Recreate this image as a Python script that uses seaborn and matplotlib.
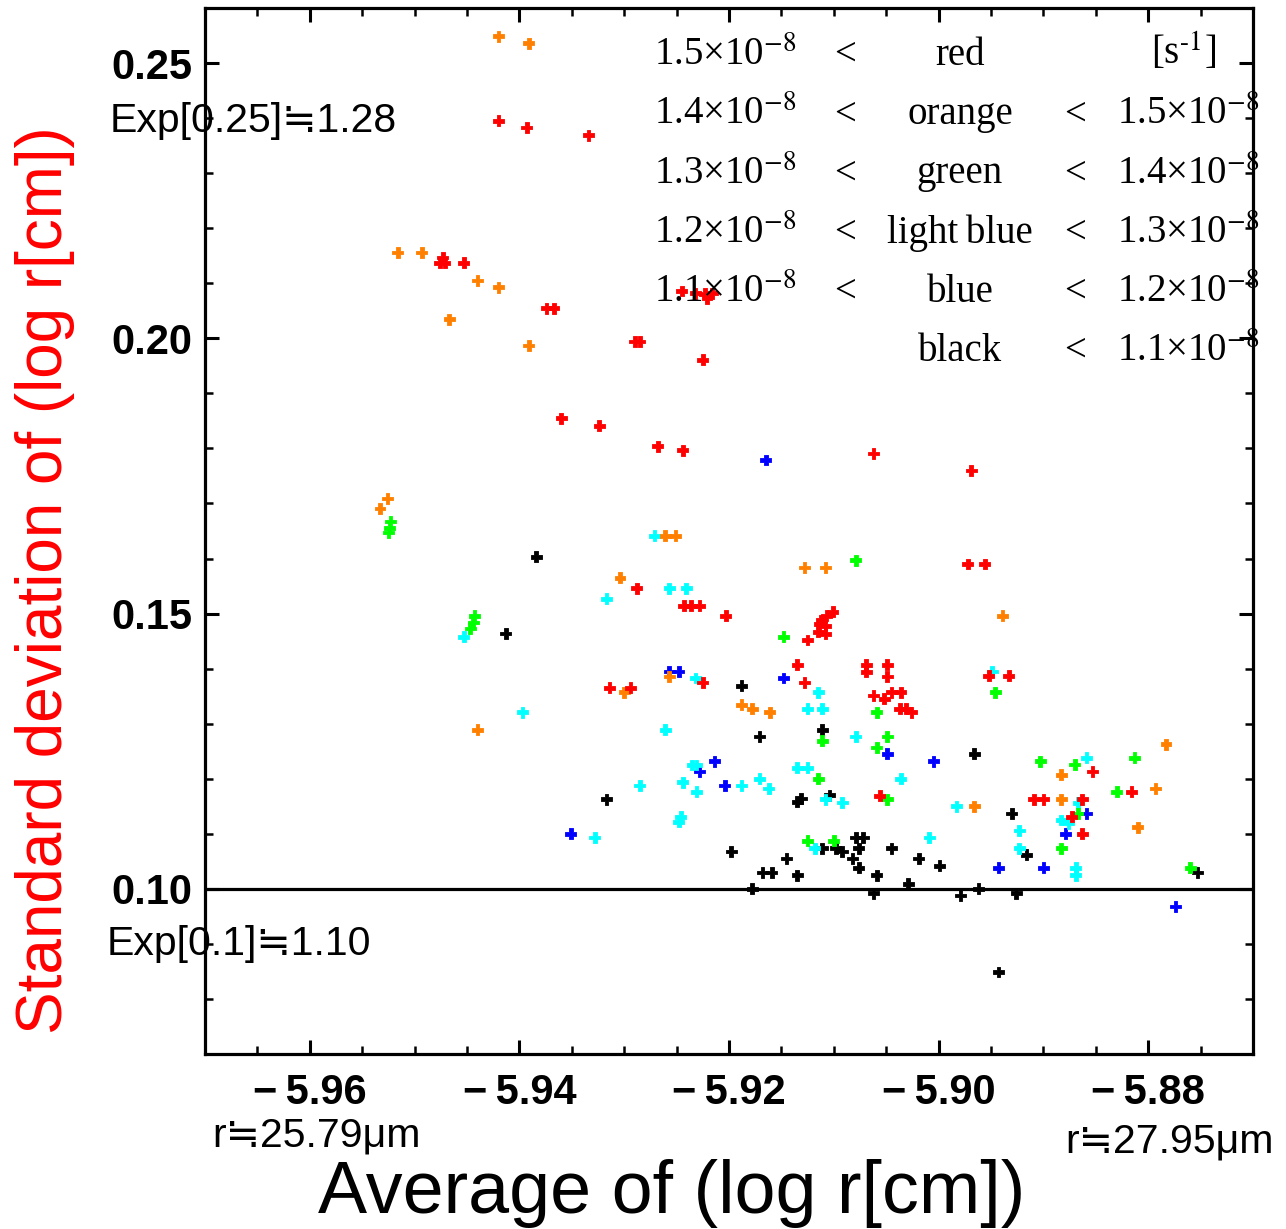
import numpy as np
import pandas as pd
import matplotlib
matplotlib.use("Agg")
import matplotlib.pyplot as plt
import seaborn as sns
from matplotlib.ticker import MultipleLocator

# ---------------- data ----------------
red_x = [-5.9420, -5.9393, -5.9334, -5.9476, -5.9471, -5.9473, -5.9453, -5.9374, -5.9367,
         -5.9290, -5.9285, -5.9225, -5.9360, -5.9324, -5.9268, -5.9244, -5.9245, -5.9232,
         -5.9223, -5.9216, -5.9221, -5.9062, -5.8969, -5.8972, -5.8956, -5.9288, -5.9243,
         -5.9236, -5.9228, -5.9203, -5.9101, -5.9107, -5.9112, -5.9114, -5.9108, -5.9115,
         -5.9108, -5.9125, -5.9135, -5.9069, -5.9069, -5.9049, -5.9049, -5.9128, -5.9225,
         -5.9314, -5.9294, -5.8952, -5.8933, -5.9062, -5.9052, -5.9045, -5.9036, -5.9037,
         -5.9031, -5.9026, -5.8853, -5.8816, -5.9056, -5.8909, -5.8900, -5.8863, -5.8873,
         -5.8863]
red_y = [0.2395, 0.2383, 0.2369, 0.2137, 0.2137, 0.2147, 0.2137, 0.2055, 0.2055,
         0.1994, 0.1994, 0.1961, 0.1855, 0.1841, 0.1804, 0.1797, 0.2086, 0.2082,
         0.2081, 0.2082, 0.2073, 0.1791, 0.1760, 0.1590, 0.1590, 0.1546, 0.1514,
         0.1514, 0.1514, 0.1496, 0.1503, 0.1496, 0.1488, 0.1481, 0.1478, 0.1467,
         0.1463, 0.1452, 0.1407, 0.1407, 0.1394, 0.1407, 0.1386, 0.1375, 0.1375,
         0.1365, 0.1365, 0.1387, 0.1387, 0.1351, 0.1345, 0.1357, 0.1357, 0.1327,
         0.1327, 0.1321, 0.1213, 0.1176, 0.1169, 0.1163, 0.1163, 0.1163, 0.1131,
         0.1100]

orange_x = [-5.9420, -5.9391, -5.9516, -5.9493, -5.9440, -5.9420, -5.9467, -5.9391,
            -5.9526, -5.9533, -5.9261, -5.9251, -5.9304, -5.9128, -5.9108, -5.8939,
            -5.9257, -5.9300, -5.9188, -5.9178, -5.9161, -5.9440, -5.8783, -5.8883,
            -5.8793, -5.8966, -5.8883, -5.8810]
orange_y = [0.2549, 0.2536, 0.2156, 0.2156, 0.2105, 0.2093, 0.2035, 0.1987,
            0.1709, 0.1691, 0.1641, 0.1641, 0.1565, 0.1584, 0.1584, 0.1496,
            0.1386, 0.1357, 0.1334, 0.1327, 0.1321, 0.1289, 0.1263, 0.1207,
            0.1182, 0.1150, 0.1163, 0.1112]

green_x = [-5.9523, -5.9524, -5.9525, -5.9443, -5.9444, -5.9447, -5.9148, -5.9079,
           -5.8946, -5.9059, -5.9111, -5.9049, -5.9059, -5.8903, -5.8870, -5.8813,
           -5.9115, -5.8830, -5.9049, -5.8867, -5.9125, -5.9100, -5.8883, -5.8760]
green_y = [0.1667, 0.1656, 0.1647, 0.1496, 0.1484, 0.1473, 0.1458, 0.1597,
           0.1357, 0.1321, 0.1269, 0.1277, 0.1257, 0.1232, 0.1226, 0.1238,
           0.1200, 0.1176, 0.1163, 0.1137, 0.1087, 0.1087, 0.1074, 0.1038]

lightblue_x = [-5.9271, -5.9257, -5.9241, -5.9317, -5.9453, -5.9232, -5.8949, -5.9115,
               -5.9125, -5.9111, -5.9397, -5.9261, -5.9079, -5.9235, -5.9231, -5.9244,
               -5.9285, -5.9188, -5.9171, -5.9162, -5.9231, -5.9135, -5.9125, -5.9036,
               -5.8859, -5.9108, -5.9092, -5.8983, -5.8867, -5.8883, -5.8876, -5.9246,
               -5.9248, -5.9328, -5.8923, -5.9009, -5.9118, -5.8923, -5.8869, -5.8869]
lightblue_y = [0.1641, 0.1546, 0.1546, 0.1527, 0.1458, 0.1383, 0.1395, 0.1357,
               0.1327, 0.1327, 0.1321, 0.1289, 0.1277, 0.1225, 0.1225, 0.1194,
               0.1188, 0.1188, 0.1200, 0.1182, 0.1176, 0.1220, 0.1220, 0.1200,
               0.1238, 0.1163, 0.1157, 0.1150, 0.1156, 0.1125, 0.1119, 0.1131,
               0.1122, 0.1093, 0.1106, 0.1093, 0.1074, 0.1074, 0.1038, 0.1025]

blue_x = [-5.9165, -5.9257, -5.9248, -5.9148, -5.9214, -5.9228, -5.9204, -5.9049,
          -5.9005, -5.9351, -5.8859, -5.8879, -5.8943, -5.8900, -5.8774]
blue_y = [0.1779, 0.1395, 0.1395, 0.1383, 0.1232, 0.1213, 0.1188, 0.1245,
          0.1232, 0.1100, 0.1137, 0.1100, 0.1038, 0.1038, 0.0968]

black_x = [-5.9384, -5.9413, -5.9188, -5.9171, -5.9111, -5.8966, -5.9317, -5.9135,
           -5.9131, -5.9104, -5.8930, -5.9198, -5.9111, -5.9098, -5.9092, -5.9079,
           -5.9072, -5.9076, -5.9045, -5.8916, -5.9145, -5.9082, -5.9019, -5.8999,
           -5.9168, -5.9159, -5.9135, -5.9076, -5.9059, -5.8753, -5.9178, -5.9029,
           -5.9062, -5.8979, -5.8962, -5.8926, -5.8943]
black_y = [0.1603, 0.1464, 0.1369, 0.1277, 0.1289, 0.1245, 0.1163, 0.1158,
           0.1164, 0.1170, 0.1137, 0.1068, 0.1074, 0.1074, 0.1068, 0.1093,
           0.1093, 0.1074, 0.1074, 0.1062, 0.1055, 0.1055, 0.1055, 0.1042,
           0.1030, 0.1030, 0.1025, 0.1038, 0.1025, 0.1030, 0.1000, 0.1009,
           0.0992, 0.0988, 0.1000, 0.0992, 0.0849]

groups = ["black", "blue", "light blue", "green", "orange", "red"]
group_colors = ["#000000", "#0000FF", "#00FFFF", "#00FF00", "#FF8000", "#FF0000"]

xtick_vals = [-5.96, -5.94, -5.92, -5.90, -5.88]
xtick_labels = ["\u2212\u20095.96", "\u2212\u20095.94", "\u2212\u20095.92", "\u2212\u20095.90", "\u2212\u20095.88"]
ytick_vals = [0.10, 0.15, 0.20, 0.25]
ytick_labels = ["0.10", "0.15", "0.20", "0.25"]
threshold = 0.10

legend_low = ["1.5\u00d710$^{-8}$", "1.4\u00d710$^{-8}$", "1.3\u00d710$^{-8}$",
              "1.2\u00d710$^{-8}$", "1.1\u00d710$^{-8}$", ""]
legend_names = ["red", "orange", "green", "light\u2009blue", "blue", "black"]
legend_high = ["", "1.5\u00d710$^{-8}$", "1.4\u00d710$^{-8}$", "1.3\u00d710$^{-8}$",
               "1.2\u00d710$^{-8}$", "1.1\u00d710$^{-8}$"]
unit_label = "[s$^{\\text{-}1}$]"

# ---------------- build frame ----------------
xs = [black_x, blue_x, lightblue_x, green_x, orange_x, red_x]
ys = [black_y, blue_y, lightblue_y, green_y, orange_y, red_y]
frames = [pd.DataFrame({"x": gx, "y": gy, "group": g}) for g, gx, gy in zip(groups, xs, ys)]
df = pd.concat(frames, ignore_index=True)
palette = dict(zip(groups, group_colors))

# ---------------- style ----------------
sns.set_style("ticks")
plt.rcParams["font.family"] = ["Liberation Sans", "DejaVu Sans"]
plt.rcParams["mathtext.fontset"] = "stix"
plt.rcParams["axes.unicode_minus"] = True
for k in ["text.color", "axes.labelcolor", "xtick.color", "ytick.color",
          "xtick.labelcolor", "ytick.labelcolor", "axes.edgecolor"]:
    plt.rcParams[k] = "black"

W, H = 1286, 1229
fig = plt.figure(figsize=(W / 100, H / 100), dpi=100)
ax = fig.add_axes([205 / W, 1 - 1054 / H, (1253 - 205) / W, (1054 - 8) / H])

sns.scatterplot(data=df, x="x", y="y", hue="group", palette=palette, marker="P",
                s=62, linewidth=0.6, edgecolor="face", legend=False, ax=ax)

ax.axhline(threshold, color="black", lw=2.3, zorder=1)

ax.set_xlim(-5.97, -5.87)
ax.set_ylim(0.07, 0.26)
ax.set_xticks(xtick_vals)
ax.set_xticklabels(xtick_labels, fontweight="bold", fontsize=30, color="black")
ax.set_yticks(ytick_vals)
ax.set_yticklabels(ytick_labels, fontweight="bold", fontsize=30, color="black")
ax.xaxis.set_minor_locator(MultipleLocator(0.005))
ax.yaxis.set_minor_locator(MultipleLocator(0.01))
ax.tick_params(which="major", direction="in", length=10, width=2.2,
               top=True, right=True, color="black")
ax.tick_params(axis="x", which="major", pad=14)
ax.tick_params(axis="y", which="major", pad=9)
ax.tick_params(which="minor", direction="in", length=5.5, width=1.8,
               top=True, right=True, color="black")
for sp in ax.spines.values():
    sp.set_linewidth(2.3)
    sp.set_color("black")
ax.set_xlabel("")
ax.set_ylabel("")

# axis titles
fig.text(672 / W, 1 - 1213 / H, "Average of (log r[cm])", fontsize=53,
         ha="center", va="baseline", color="black")
fig.text(45 / W, 1 - 580 / H, "Standard deviation of (log r[cm])", fontsize=46,
         ha="center", va="center", rotation=90, color="#FF0000")

# annotations
ann_font = ["Liberation Sans", "DejaVu Sans"]
fig.text(110 / W, 1 - 132 / H, "Exp[0.25]\u22521.28", fontsize=29.5, family=ann_font,
         ha="left", va="baseline", color="black")
fig.text(107 / W, 1 - 955 / H, "Exp[0.1]\u22521.10", fontsize=29.5, family=ann_font,
         ha="left", va="baseline", color="black")
fig.text(212 / W, 1 - 1146 / H, "r\u225225.79\u03bcm", fontsize=29.5, family=ann_font,
         ha="left", va="baseline", color="black")
fig.text(1065 / W, 1 - 1153 / H, "r\u225227.95\u03bcm", fontsize=29.5, family=ann_font,
         ha="left", va="baseline", color="black")

# colour key
serif = ["Liberation Serif", "DejaVu Serif"]
for i in range(len(legend_names)):
    yb = 1 - (65 + 59.2 * i) / H
    if legend_low[i]:
        fig.text(797 / W, yb, legend_low[i], fontsize=28, family=serif, ha="right", va="baseline", color="black")
        fig.text(845 / W, yb, "<", fontsize=28, family=serif, ha="center", va="baseline", color="black")
    fig.text(960 / W, yb, legend_names[i], fontsize=28, family=serif, ha="center", va="baseline", color="black")
    if legend_high[i]:
        fig.text(1075 / W, yb, "<", fontsize=28, family=serif, ha="center", va="baseline", color="black")
        fig.text(1117 / W, yb, legend_high[i], fontsize=28, family=serif, ha="left", va="baseline", color="black")
fig.text(1216 / W, 1 - 65 / H, unit_label, fontsize=28, family=serif, ha="right", va="baseline", color="black")

fig.savefig("out.png", dpi=100)
